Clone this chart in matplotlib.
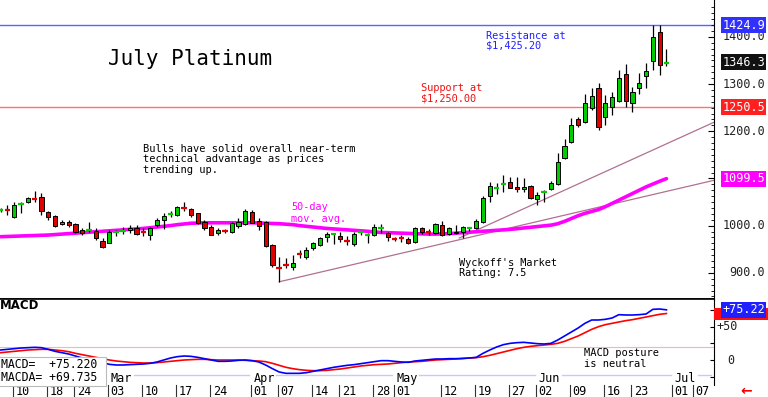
import numpy as np
import pandas as pd
import matplotlib
matplotlib.use("Agg")
import matplotlib.pyplot as plt
from matplotlib.patches import Rectangle

plt.rcParams['font.family'] = ['DejaVu Sans Mono']

# trading days (exchange holidays skipped)
holidays = ['2025-02-17', '2025-04-18', '2025-05-26', '2025-06-19', '2025-07-04']
days = pd.bdate_range('2025-02-06', '2025-07-07')
days = days[~days.isin(pd.to_datetime(holidays))]

# daily candles, July platinum
opens = [1032, 1034, 1019, 1046, 1049.5, 1057, 1061.5, 1028, 1020.5, 1003,
         1008.5, 1003, 991, 990, 989, 968, 964, 985, 988, 991,
         995.5, 986, 980, 1001.5, 1012, 1025, 1022.5, 1037, 1034.5, 1026,
         1008.5, 998, 984, 989.5, 987.5, 999.5, 1003.5, 1029.5, 1010.5, 1008.5,
         959, 911, 917, 913, 941, 933, 952, 959, 975, 981.5,
         978.5, 968, 961, 985, 980, 980, 994, 985, 972, 975,
         971, 966, 994, 988, 983.5, 1001.5, 981.5, 987, 985.5, 993.5,
         994, 1007, 1063, 1080, 1087, 1093, 1082.5, 1077, 1084, 1056,
         1071, 1077, 1088, 1142.5, 1178, 1225, 1220, 1248.5, 1291, 1229.5,
         1250.5, 1265, 1321.5, 1260.5, 1291, 1317, 1349.5, 1411, 1344]
highs = [1037, 1044, 1051, 1051, 1061.5, 1074, 1070, 1030, 1023, 1012,
         1012, 1005, 994, 1008.5, 994, 973, 991, 991, 997, 1001.5,
         1001.5, 994, 998, 1015.5, 1026, 1032, 1041.5, 1049, 1036.5, 1027.5,
         1012, 1001.5, 994.5, 992, 1008.5, 1015.5, 1034.5, 1033, 1015.5, 1009,
         960, 933, 931, 938, 948, 955.5, 966, 976.5, 987, 985,
         987, 978, 987, 989, 983.5, 1003.5, 1003.5, 987, 976.5, 980,
         976.5, 997.5, 997.5, 992, 1005, 1010.5, 997.5, 1001.5, 999, 997.5,
         1013.5, 1063, 1093, 1089.5, 1107.5, 1102.5, 1102.5, 1100, 1086, 1072,
         1075.5, 1095.5, 1153, 1183, 1227.5, 1231, 1278, 1291, 1301.5, 1277,
         1284, 1329.5, 1342.5, 1293, 1324, 1344, 1424.9, 1424, 1373.5]
lows = [1028, 1023, 1016, 1026, 1047, 1051, 1023, 1012, 998, 1001.5,
        998, 984, 980, 986, 970, 952, 963, 977, 982.5, 984,
        980, 977, 970, 998, 992, 1019, 1021, 1032, 1019, 1003.5,
        991, 980, 980, 985, 984, 994.5, 1001.5, 1005, 991, 954,
        913, 881, 909.5, 906, 930.5, 928.5, 948.5, 957, 966, 961,
        966, 959, 957, 980, 962.5, 978, 983.5, 968, 968, 966,
        961, 964, 982, 980, 981.5, 978, 980, 982, 973, 989,
        992, 1005, 1051, 1067, 1072, 1079, 1072, 1072, 1056, 1043.5,
        1051, 1075.5, 1086, 1140.5, 1176, 1209.5, 1216.5, 1245, 1202.5, 1213.5,
        1234.5, 1262.5, 1250.5, 1241.5, 1279, 1291, 1329.5, 1319, 1338]
closes = [1034, 1032, 1044, 1047, 1058, 1055, 1032, 1019, 999.5, 1008.5,
          1001.5, 986, 984, 991, 973, 954, 987, 986, 989, 994.5,
          982.5, 985, 994, 1012, 1020.5, 1026, 1039, 1036, 1022.5, 1006.5,
          994.5, 980.5, 991, 988, 1005, 1008.5, 1031.5, 1006.5, 999.5, 957,
          916.5, 909.5, 916, 921.5, 939, 948.5, 962.5, 973, 982, 982.5,
          971, 967, 982, 986, 980.5, 997.5, 996, 975, 971, 974,
          964, 994, 985.5, 987, 1003.5, 980, 994, 983.5, 997.5, 994.5,
          1010.5, 1058, 1084, 1081, 1088, 1080.5, 1077, 1082.5, 1058, 1065,
          1071.5, 1089.5, 1135.5, 1168.5, 1213, 1213, 1259, 1274.5, 1209.5, 1260.5,
          1272, 1312, 1265, 1284, 1303, 1328.5, 1399, 1340.5, 1346.3]

# 50-day moving average as drawn
ma50 = [976.5, 977, 977.5, 978, 978.5, 979, 979.5, 980, 981, 982,
        983, 984, 985, 986, 987, 988, 989, 990, 991, 992,
        993, 994, 995.5, 997, 998.5, 1000, 1002, 1003.5, 1005, 1005.5,
        1006, 1006, 1006, 1006, 1006, 1006, 1006, 1006, 1005.5, 1005,
        1004.5, 1004, 1003, 1002, 1000, 998.5, 997, 995.5, 994, 993,
        992, 991, 990, 989, 988, 986.5, 985.5, 985, 984.5, 984,
        983.5, 983, 982.5, 982, 982, 982.5, 983, 984, 985, 986,
        987, 988, 989, 990, 991, 992, 993.5, 995, 996.5, 998,
        999.5, 1001, 1004, 1009, 1015, 1021, 1026, 1030, 1034, 1040,
        1047, 1054, 1061, 1068, 1075, 1082, 1088, 1094, 1099.5]

# MACD (blue) and its average (red)
macd = [15, 16, 17, 18, 18.5, 19, 18.5, 16, 13, 11,
        9, 6, 3, 1, -2, -4, -6.5, -7.5, -7.5, -7,
        -6.5, -6, -5, -3, 0, 3, 5, 6, 5.5, 4,
        2, 0, -2, -2, -1.5, -0.5, 0, -1, -3, -7.5,
        -13, -18, -20, -20, -20, -19, -17, -15, -13, -11,
        -9.5, -8, -7, -5.5, -4, -2.5, -1, -1, -2, -3,
        -3.5, -1.5, -0.5, 0.5, 1.5, 1.5, 2, 2, 2.5, 3,
        4, 10, 15, 19.5, 23, 25, 26, 26.5, 25.5, 24.5,
        24, 25, 30, 36, 42, 48, 55, 60, 60, 61,
        63, 68, 67.5, 67.5, 68, 69, 76, 76.5, 75.22]
macda = [11, 12, 13, 14, 15, 15.5, 16, 16, 15, 14,
         12.5, 10, 8, 6, 4, 2, 0, -1.5, -2.5, -3.5,
         -4, -4.5, -4.5, -4, -3, -2, -1, 0, 0.5, 1,
         1, 0.5, 0, 0, 0, 0, -0.5, -1, -1.5, -2.5,
         -5, -8, -11, -13, -14.5, -15.5, -16, -16, -15.5, -14.5,
         -13.5, -12, -10.5, -9, -8, -7, -6.5, -6, -5, -4,
         -3, -2.5, -2, -1, 0, 0.5, 1, 1.5, 2, 3,
         3.5, 5, 7, 9.5, 12, 14.5, 17, 19, 20.5, 21.5,
         22.5, 23.5, 25, 28, 32, 36, 41, 46, 50, 53,
         55, 57, 59, 60.5, 62.5, 64.5, 66.5, 68.5, 69.735]

resistance = 1424.9
support = 1250.5
# trend lines: (start day index, start price) -> (right edge, price)
trend_start = [(41, 881), (67.5, 973.7)]
trend_end = [(105, 1096), (105, 1219)]

label_dates = ['2025-02-10', '2025-02-18', '2025-02-24', '2025-03-03', '2025-03-10',
               '2025-03-17', '2025-03-24', '2025-04-01', '2025-04-07', '2025-04-14',
               '2025-04-21', '2025-04-28', '2025-05-01', '2025-05-12', '2025-05-19',
               '2025-05-27', '2025-06-02', '2025-06-09', '2025-06-16', '2025-06-23',
               '2025-07-01', '2025-07-07']
month_starts = ['2025-03-03', '2025-04-01', '2025-05-01', '2025-06-02', '2025-07-01']
month_names = ['Mar', 'Apr', 'May', 'Jun', 'Jul']

GREEN = '#00cc00'
RED = '#e00000'

fig = plt.figure(figsize=(7.68, 3.97), dpi=100)
ax = fig.add_axes([0, 1 - 299 / 397, 714 / 768, 299 / 397])
ax2 = fig.add_axes([0, 12 / 397, 714 / 768, 86 / 397])

n = len(closes)
x = np.arange(n)
o = np.array(opens); h = np.array(highs); l = np.array(lows); c = np.array(closes)

# ---- price panel
ax.axhline(resistance, color='#6060ff', lw=1, zorder=1)
ax.axhline(support, color='#ff7070', lw=1, zorder=1)
for (x0, y0), (x1, y1) in zip(trend_start, trend_end):
    ax.plot([x0, x1], [y0, y1], color='#b07090', lw=0.9, zorder=1)
ax.plot(x, ma50, color='#ff00ff', lw=2.6, zorder=2, solid_capstyle='round')

ax.vlines(x, l, h, color='black', lw=0.9, zorder=3)
doji = np.abs(c - o) < 3
body = ~doji
cols = np.where(c >= o, GREEN, RED)
ax.bar(x[body], np.abs(c - o)[body], bottom=np.minimum(o, c)[body], width=0.62,
       color=cols[body], edgecolor='black', linewidth=0.7, zorder=4)
ax.hlines(((o + c) / 2)[doji], x[doji] - 0.4, x[doji] + 0.4, colors=cols[doji], lw=1.6, zorder=4)

ax.set_xlim(-0.1, 105)
ax.set_ylim(844.5, 1478)
for s in ['top', 'left']:
    ax.spines[s].set_visible(False)
ax.spines['bottom'].set_linewidth(1.2)
ax.spines['right'].set_linewidth(0.8)
ax.set_xticks([])
ax.yaxis.tick_right()
ax.set_yticks([900, 1000, 1100, 1200, 1300, 1400])
ax.set_yticks(np.arange(850, 1475, 12.5), minor=True)
ax.tick_params(axis='y', which='major', direction='in', length=4, labelright=False)
ax.tick_params(axis='y', which='minor', direction='in', length=2)

ty = ax.get_yaxis_transform()
for v in [1400, 1300, 1200, 1100, 1000, 900]:
    ax.text(1.0715, v, f'{v:.1f}', transform=ty, ha='right', va='center', fontsize=8.5,
            color='#222222', clip_on=False, zorder=5)
for v, bg in [(resistance, '#3030ff'), (closes[-1], '#111111'), (support, '#ff2020'), (ma50[-1], '#ff00ff')]:
    ax.text(1.0715, v, f'{v:.1f}', transform=ty, ha='right', va='center', fontsize=8.5,
            color='white', clip_on=False, zorder=6,
            bbox=dict(boxstyle='square,pad=0.12', fc=bg, ec='none'))

ax.text(15.8, 1354, 'July Platinum', fontsize=15, va='center', ha='left')
ax.text(71.4, 1391.5, 'Resistance at\n$1,425.20', color='#2020ff', fontsize=7.4,
        va='center', linespacing=1.0)
ax.text(61.8, 1280.3, 'Support at\n$1,250.00', color='#ee1010', fontsize=7.4,
        va='center', linespacing=1.0)
ax.text(20.9, 1140.5, 'Bulls have solid overall near-term\ntechnical advantage as prices\ntrending up.',
        fontsize=7.5, va='center', linespacing=1.08)
ax.text(42.8, 1026.7, '50-day\nmov. avg.', color='#ff00ff', fontsize=7.3, va='center', linespacing=1.2)
ax.text(67.4, 911.2, "Wyckoff's Market\nRating: 7.5", fontsize=7.4, va='center', linespacing=1.0)

# ---- MACD panel
ax2.axhline(19, color='#ffb0b0', lw=0.8, zorder=1)
ax2.plot(x, macda, color='#ff0000', lw=1.2, zorder=3)
ax2.plot(x, macd, color='#0000ff', lw=1.2, zorder=3)
ax2.set_xlim(-0.1, 105)
ax2.set_ylim(-37.5, 91.5)
for s in ['left', 'bottom']:
    ax2.spines[s].set_visible(False)
ax2.spines['top'].set_linewidth(1.2)
ax2.spines['right'].set_linewidth(0.8)
ax2.set_xticks([])
ax2.yaxis.tick_right()
ax2.set_yticks([-25, 0, 25, 50, 75])
ax2.tick_params(axis='y', direction='in', length=3, labelright=False)
t2 = ax2.get_yaxis_transform()
ax2.text(1.003, 50, '+50', transform=t2, ha='left', va='center', fontsize=8.5, color='#222222', clip_on=False)
ax2.text(1.019, 0, '0', transform=t2, ha='left', va='center', fontsize=8.5, color='#222222', clip_on=False)
# signal value tag sits behind the MACD tag
ax2.add_patch(Rectangle((1.0, macda[-1] - 9), 54 / 714, 18, transform=t2, clip_on=False,
                        facecolor='#ff1010', edgecolor='none', zorder=5))
ax2.text(1.0715, macd[-1], f'+{macd[-1]:.2f}', transform=t2, ha='right', va='center', fontsize=8.5,
         color='white', clip_on=False, zorder=6,
         bbox=dict(boxstyle='square,pad=0.12', fc='#2020ff', ec='none'))

ax2.text(0.0, 0.92, 'MACD', transform=ax2.transAxes, fontsize=8.5, fontweight='bold',
         family='DejaVu Sans', va='center', ha='left')
ax2.text(85.8, 2.5, 'MACD posture\nis neutral', fontsize=7.5, va='center', linespacing=1.05)
ax2.text(0.001, 0.16, f'MACD=  {macd[-1]:+.3f} \nMACDA= {macda[-1]:+.3f} ', transform=ax2.transAxes,
         fontsize=8.3, va='center', ha='left', linespacing=1.0, zorder=7,
         bbox=dict(boxstyle='square,pad=0.15', fc='white', ec='#bbbbbb', lw=0.8))

# month names with their guide lines
tx = ax2.get_xaxis_transform()
pos = {d: i for i, d in enumerate(days.strftime('%Y-%m-%d'))}
mpos = [pos[d] for d in month_starts] + [105]
for k, name in enumerate(month_names):
    ax2.text(mpos[k] + 0.2, 0.08, name, transform=tx, fontsize=8.5, va='center', ha='left')
    ax2.plot([mpos[k] + 3.6, mpos[k + 1] - 0.4], [0.115, 0.115], transform=tx,
             color='#c8c8ff', lw=1.0, clip_on=False)

# date row under the panels
for d in label_dates:
    i = pos[d]
    ax2.plot([i - 0.15, i - 0.15], [0, -0.14], transform=tx, color='#333333', lw=0.8, clip_on=False)
    ax2.text(i + 0.2, -0.075, d[-2:], transform=tx, fontsize=8.5, va='center', ha='left',
             clip_on=False)

fig.text(0.972, 0.015, '\u2190', color='#ee0000', fontsize=10, fontweight='bold',
         family='DejaVu Sans', ha='center', va='center')

fig.savefig('out.png', dpi=100)
